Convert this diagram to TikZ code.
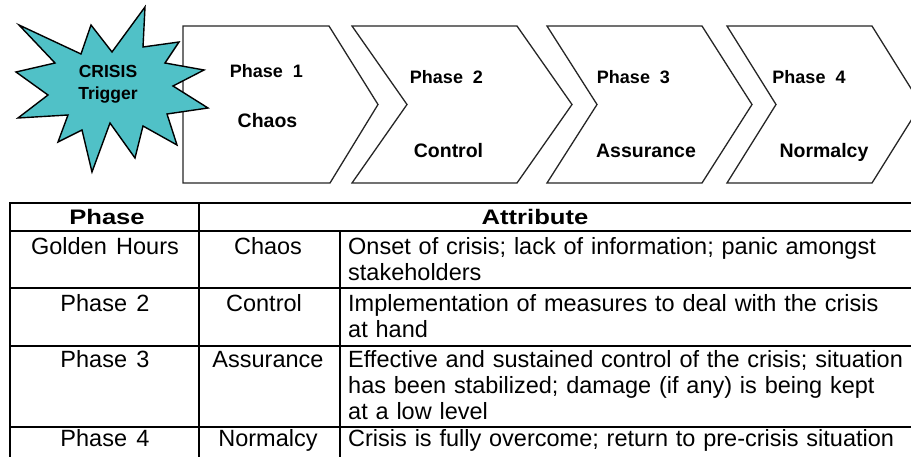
\documentclass[tikz,border=0pt]{standalone}
\usepackage{fontspec}
\setmainfont{Liberation Sans}
\newfontfamily\headfont[FakeStretch=1.22]{Liberation Sans}
\usetikzlibrary{positioning}
\usetikzlibrary{calc}
\definecolor{burstteal}{RGB}{80,193,199}
\newcommand{\cellfont}{\fontsize{23.5}{26}\selectfont\spaceskip=0.4em\relax}

\begin{document}
\begin{tikzpicture}[
    x=1pt, y=-1pt,
% Shapes style
    phasebox/.style={draw=black!85, line width=1.3pt, fill=white, line join=miter},
    burst/.style={draw=black, line width=1.4pt, fill=burstteal, line join=miter},
% Label style
    phaselabel/.style={anchor=base, inner sep=0pt, font={\fontsize{18}{22}\selectfont\bfseries}},
    namelabel/.style={anchor=base, inner sep=0pt, font={\fontsize{19.5}{22}\selectfont\bfseries}},
    trigger/.style={align=center, inner sep=0pt, font={\fontsize{17.5}{22}\selectfont\bfseries}},
% Table style
    rowline/.style={line width=2.2pt},
    colline/.style={line width=1.3pt},
    cell/.style={anchor=base, inner sep=0pt, font=\cellfont},
    head/.style={anchor=base, inner sep=0pt, font={\headfont\bfseries\fontsize{21}{26}\selectfont}},
    desc/.style={cell, anchor=base west, text width=566pt, align=left}
    ]
  \useasboundingbox (0,0) rectangle (911,457);
  \clip (0,0) rectangle (911,457);

  % phase chevrons
  \draw[phasebox] (183,26) -- (329,26) -- (378,104.5) -- (330,183) -- (183,183) -- cycle;
  \foreach \l/\r/\d in {352/517/55, 547/702/50, 727/872/49}
    \draw[phasebox] (\l,26) -- (\r,26) -- (\r+\d,104.5) -- (\r,183) -- (\l,183)
      -- (\l+\d,104.5) -- cycle;

  \node[phaselabel] (p1) at (266.5,78) {Phase\ \ 1};
  \node[namelabel] (n1) at (267.5,128) {Chaos};
  \node[phaselabel] (p2) at (446.5,84) {Phase\ \ 2};
  \node[namelabel] (n2) at (448.5,158) {Control};
  \node[phaselabel] (p3) at (633.5,84) {Phase\ \ 3};
  \node[namelabel] (n3) at (646,158) {Assurance};
  \node[phaselabel] (p4) at (809,84) {Phase\ \ 4};
  \node[namelabel] (n4) at (824,158) {Normalcy};

  % crisis burst
  \draw[burst] (19,25) -- (81,54) -- (91,25) -- (112,52) -- (145,7) -- (143,47)
    -- (179,42) -- (165,63) -- (204,70) -- (173,86) -- (208,108) -- (167,114)
    -- (177,145) -- (143,126) -- (135,158) -- (110,123) -- (92,172) -- (82,130)
    -- (58,142) -- (68,115) -- (18,118) -- (48,95) -- (16,72) -- (55,63) -- cycle;
  \node[trigger] (trig) at (108,84.5) {CRISIS\\Trigger};

  % table rules
  \foreach \y in {203,231,288,346,427}
    \draw[rowline] (9.35,\y) -- (911,\y);
  \draw[colline] (10,203) -- (10,457);
  \draw[colline] (199,203) -- (199,457);
  \draw[colline] (340,231) -- (340,457);

  % table text
  \node[head] (hphase) at (107,225) {Phase};
  \node[head] (hattr) at (535,225) {Attribute};

  \node[cell] (r1a) at (105,255) {Golden Hours};
  \node[cell] (r1b) at (268,255) {Chaos};
  \node[desc] (r1c) at (348,255) {Onset of crisis; lack of information; panic amongst\\stakeholders};

  \node[cell] (r2a) at (105,312) {Phase 2};
  \node[cell] (r2b) at (264,312) {Control};
  \node[desc] (r2c) at (348,312) {Implementation of measures to deal with the crisis\\at hand};

  \node[cell] (r3a) at (105,367) {Phase 3};
  \node[cell] (r3b) at (268,367) {Assurance};
  \node[desc] (r3c) at (348,367) {Effective and sustained control of the crisis; situation\\has been stabilized; damage (if any) is being kept\\at a low level};

  \node[cell] (r4a) at (105,446) {Phase 4};
  \node[cell] (r4b) at (268,446) {Normalcy};
  \node[desc] (r4c) at (348,446) {Crisis is fully overcome; return to pre-crisis situation};

\end{tikzpicture}
\end{document}
